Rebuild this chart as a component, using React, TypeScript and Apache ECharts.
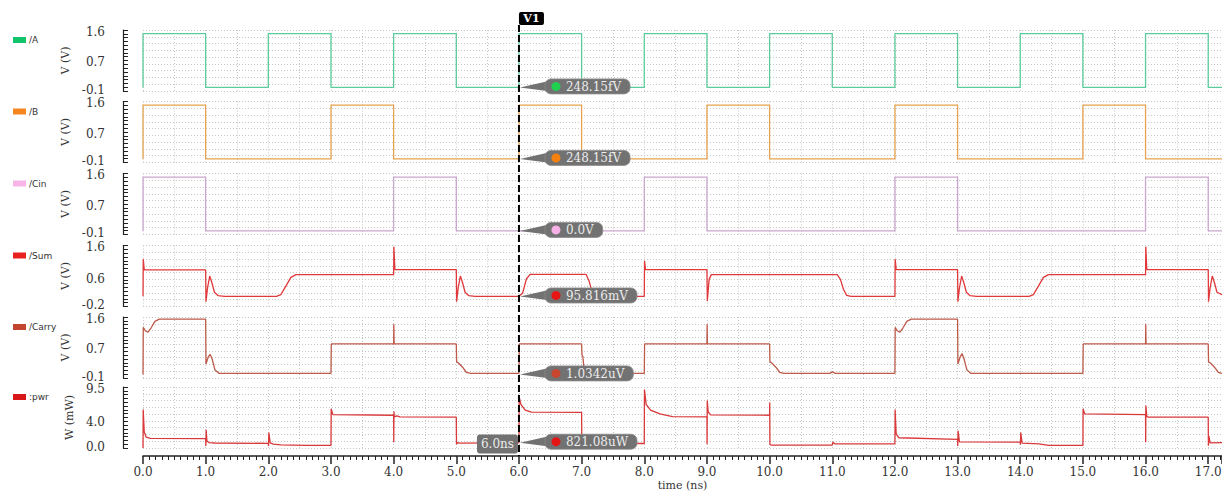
import React, { useEffect, useRef } from "react";
import * as echarts from "echarts";

// ---------- data ----------
const signalNames = ["/A", "/B", "/Cin", "/Sum", "/Carry", ":pwr"];
const axisTitles = ["V (V)", "V (V)", "V (V)", "V (V)", "V (V)", "W (mW)"];
const axisMin = [-0.1, -0.1, -0.1, -0.2, -0.1, 0.0];
const axisMax = [1.6, 1.6, 1.6, 1.6, 1.6, 9.5];
const axisTickValues = [
  [-0.1, 0.7, 1.6],
  [-0.1, 0.7, 1.6],
  [-0.1, 0.7, 1.6],
  [-0.2, 0.6, 1.6],
  [-0.1, 0.7, 1.6],
  [0.0, 4.0, 9.5],
];
const timeMax = 17.22;
const timeLabelStep = 1;
const timeGridStep = 0.5;
const timeAxisName = "time (ns)";

// digital inputs (step: value holds from t until next point)
const aWave = [[0, 0], [0, 1.5], [1, 0], [2, 1.5], [3, 0], [4, 1.5], [5, 0], [6, 1.5], [7, 0], [8, 1.5], [9, 0], [10, 1.5], [11, 0], [12, 1.5], [13, 0], [14, 1.5], [15, 0], [16, 1.5], [17, 0], [17.22, 0]];
const bWave = [[0, 0], [0, 1.5], [1, 0], [3, 1.5], [4, 0], [6, 1.5], [7, 0], [9, 1.5], [10, 0], [12, 1.5], [13, 0], [15, 1.5], [16, 0], [17.22, 0]];
const cinWave = [[0, 0], [0, 1.5], [1, 0], [4, 1.5], [5, 0], [8, 1.5], [9, 0], [12, 1.5], [13, 0], [16, 1.5], [17, 0], [17.22, 0]];

// analog outputs
const sumWave = [
  [0, 0.1], [0.004, 1.2], [0.02, 0.88], [1.0, 0.88], [1.005, -0.06], [1.03, 0.35], [1.065, 0.7], [1.1, 0.5], [1.14, 0.22], [1.2, 0.12], [1.3, 0.1],
  [2.13, 0.1], [2.2, 0.15], [2.28, 0.4], [2.36, 0.66], [2.44, 0.74], [4.0, 0.74], [4.004, 1.56], [4.02, 0.89],
  [5.0, 0.89], [5.005, -0.06], [5.03, 0.35], [5.065, 0.7], [5.1, 0.5], [5.14, 0.22], [5.2, 0.12], [5.3, 0.1],
  [6.0, 0.1], [6.06, 0.2], [6.12, 0.62], [6.18, 0.75], [7.07, 0.75], [7.12, 0.55], [7.17, 0.2], [7.21, 0.1],
  [8.0, 0.1], [8.004, 1.15], [8.02, 0.89], [9.0, 0.89], [9.006, -0.04], [9.035, 0.6], [9.07, 0.74],
  [11.08, 0.74], [11.13, 0.6], [11.18, 0.3], [11.23, 0.13], [11.3, 0.1],
  [12.0, 0.1], [12.004, 1.2], [12.02, 0.89], [13.0, 0.89], [13.005, -0.06], [13.03, 0.35], [13.065, 0.7], [13.1, 0.5], [13.14, 0.22], [13.2, 0.12], [13.3, 0.1],
  [14.14, 0.1], [14.21, 0.15], [14.29, 0.4], [14.37, 0.66], [14.45, 0.74], [16.0, 0.74], [16.004, 1.56], [16.02, 0.89],
  [17.0, 0.89], [17.005, -0.06], [17.03, 0.35], [17.065, 0.7], [17.1, 0.5], [17.14, 0.22], [17.22, 0.15],
];
const carryWave = [
  [0, 0.0], [0.004, 1.31], [0.04, 1.21], [0.08, 1.18], [0.13, 1.3], [0.19, 1.48], [0.26, 1.54], [1.0, 1.54],
  [1.005, 0.29], [1.04, 0.48], [1.07, 0.56], [1.1, 0.45], [1.15, 0.12], [1.21, 0.03],
  [3.0, 0.03], [3.005, 0.85], [4.0, 0.85], [4.003, 1.4], [4.008, 0.85], [5.0, 0.85],
  [5.005, 0.35], [5.04, 0.31], [5.1, 0.2], [5.16, 0.06], [5.23, 0.03],
  [6.0, 0.03], [6.005, 0.85], [7.0, 0.85], [7.005, 0.55], [7.02, 0.5], [7.04, 0.12], [7.07, 0.03],
  [8.0, 0.03], [8.005, 0.85], [9.0, 0.85], [9.003, 1.4], [9.008, 0.85], [10.0, 0.85],
  [10.005, 0.35], [10.04, 0.31], [10.1, 0.2], [10.16, 0.06], [10.23, 0.03], [10.96, 0.03], [11.0, 0.07], [11.05, 0.03],
  [12.0, 0.03], [12.004, 1.31], [12.04, 1.21], [12.08, 1.18], [12.13, 1.3], [12.19, 1.48], [12.26, 1.54], [13.0, 1.54],
  [13.005, 0.29], [13.04, 0.48], [13.07, 0.58], [13.1, 0.45], [13.15, 0.12], [13.21, 0.03],
  [15.0, 0.03], [15.005, 0.85], [16.0, 0.85], [16.003, 1.4], [16.008, 0.85], [17.0, 0.85],
  [17.005, 0.35], [17.04, 0.31], [17.1, 0.2], [17.16, 0.06], [17.22, 0.03],
];
const pwrWave = [
  [0, 0], [0.003, 6.0], [0.02, 2.5], [0.05, 1.7], [0.12, 1.5], [1.0, 1.45],
  [1.003, 0.3], [1.008, 2.85], [1.02, 1.1], [1.05, 0.85], [1.15, 0.78], [2.0, 0.72],
  [2.003, 0.3], [2.008, 2.4], [2.03, 0.8], [2.08, 0.6], [2.2, 0.5], [2.6, 0.42], [3.0, 0.42],
  [3.003, 6.1], [3.03, 5.2], [4.0, 5.1], [4.002, 0.9], [4.005, 5.7], [4.01, 4.85], [4.05, 5.0], [4.1, 4.85], [5.0, 4.8],
  [5.003, 0.6], [5.02, 0.85], [5.05, 0.75], [6.0, 0.82],
  [6.003, 8.0], [6.03, 6.8], [6.1, 5.9], [6.2, 5.6], [7.0, 5.55],
  [7.003, 0.5], [7.02, 0.75], [8.0, 0.7],
  [8.003, 9.1], [8.03, 6.8], [8.1, 5.9], [8.25, 5.3], [8.45, 4.9], [9.0, 4.85],
  [9.002, 0.6], [9.005, 7.4], [9.02, 5.6], [9.06, 5.15], [10.0, 5.1],
  [10.002, 7.1], [10.005, 0.6], [10.02, 0.45], [11.0, 0.45], [11.01, 0.9], [11.04, 0.65], [12.0, 0.65],
  [12.003, 6.0], [12.02, 2.2], [12.06, 1.6], [13.0, 1.35],
  [13.003, 0.3], [13.008, 2.7], [13.03, 0.95], [14.0, 0.9],
  [14.003, 0.5], [14.008, 2.4], [14.03, 0.75], [14.3, 0.65], [14.45, 0.4], [15.0, 0.4],
  [15.003, 6.1], [15.03, 5.3], [16.0, 5.2], [16.002, 0.9], [16.005, 6.6], [16.02, 4.9], [16.05, 4.8], [17.0, 4.8],
  [17.003, 0.35], [17.01, 1.9], [17.03, 0.8], [17.22, 0.83],
];
const waves = [aWave, bWave, cinWave, sumWave, carryWave, pwrWave];
const stepped = [true, true, true, false, false, false];

const lineColors = ["#5ccb9c", "#e7a24f", "#c9a6cd", "#e0393b", "#bd5a4a", "#d9393b"];
const swatchColors = ["#14c46a", "#f5861f", "#f7b6e6", "#e8201f", "#c2452f", "#d8171a"];
const dotColors = ["#1fd050", "#f5800f", "#f7b0e8", "#e81515", "#c8462f", "#e41515"];

const cursorName = "V1";
const cursorTime = 6.0;
const cursorTimeText = "6.0ns";
const cursorValues = [2.4815e-13, 2.4815e-13, 0, 0.095816, 1.0342e-6, 0.82108];
const cursorTexts = ["248.15fV", "248.15fV", "0.0V", "95.816mV", "1.0342uV", "821.08uW"];

// ---------- layout ----------
const WIDTH = 1222;
const HEIGHT = 491;
const GRID_LEFT = 143;
const PANEL_TOPS = [30, 101.5, 173.5, 245.5, 317, 387];
const PANEL_H = 61;
const SERIF = '"DejaVu Serif", serif';
const SANS = '"DejaVu Sans", sans-serif';
const GRID_COLOR = "#c6c6c6";
const AXIS_COLOR = "#222";
const LABEL_COLOR = "#333";

function measure(text: string, font: string) {
  const c = document.createElement("canvas").getContext("2d");
  if (!c) return text.length * 7;
  c.font = font;
  return c.measureText(text).width;
}

const tickRich = {
  lo: { fontFamily: SERIF, fontSize: 12, color: LABEL_COLOR, lineHeight: 12, padding: [0, 0, 3, 0] },
  md: { fontFamily: SERIF, fontSize: 12, color: LABEL_COLOR, lineHeight: 12 },
  hi: { fontFamily: SERIF, fontSize: 12, color: LABEL_COLOR, lineHeight: 12, padding: [3, 0, 0, 0] },
};

export default function App() {
  const ref = useRef<HTMLDivElement>(null);
  useEffect(() => {
    document.body.style.margin = "0";
    if (!ref.current) return;
    const chart = echarts.init(ref.current, undefined, { renderer: "svg" });

    const grids = PANEL_TOPS.map((top) => ({
      left: GRID_LEFT,
      right: 0,
      top,
      height: PANEL_H,
      containLabel: false,
      outerBoundsMode: "none",
    }));

    const xAxes: any[] = PANEL_TOPS.map((_, i) => ({
      type: "value",
      gridIndex: i,
      min: 0,
      max: timeMax,
      interval: timeGridStep,
      axisLine: { show: false, onZero: false },
      axisTick: { show: false },
      axisLabel: { show: false },
      splitLine: { show: true, lineStyle: { color: GRID_COLOR, type: [1, 2], width: 1 } },
    }));
    xAxes.push({
      type: "value",
      gridIndex: 5,
      min: 0,
      max: timeMax,
      interval: timeLabelStep,
      position: "bottom",
      offset: 8,
      axisLine: { show: true, onZero: false, lineStyle: { color: AXIS_COLOR, width: 1.5 } },
      axisTick: { show: true, length: 8, lineStyle: { color: AXIS_COLOR, width: 1.5 } },
      minorTick: { show: true, splitNumber: 10, length: 4, lineStyle: { color: AXIS_COLOR, width: 1 } },
      axisLabel: {
        formatter: (v: number) => (Math.abs(v - Math.round(v)) < 1e-9 ? v.toFixed(1) : ""),
        fontFamily: SERIF,
        fontSize: 12,
        lineHeight: 13,
        color: LABEL_COLOR,
        margin: 9,
      },
      splitLine: { show: false },
      name: timeAxisName,
      nameLocation: "middle",
      nameGap: 23.5,
      nameMoveOverlap: false,
      nameTextStyle: { fontFamily: SERIF, fontSize: 11, lineHeight: 11, color: LABEL_COLOR },
    });

    const yAxes: any[] = [];
    PANEL_TOPS.forEach((_, i) => {
      const lo = axisMin[i];
      const hi = axisMax[i];
      yAxes.push({
        type: "value",
        gridIndex: i,
        min: lo,
        max: hi,
        position: "left",
        offset: 20,
        axisLine: { show: true, onZero: false, lineStyle: { color: AXIS_COLOR, width: 1.2 } },
        axisTick: { show: false },
        axisLabel: {
          customValues: axisTickValues[i],
          formatter: (v: number) => {
            const s = v.toFixed(1);
            if (Math.abs(v - lo) < 1e-9) return `{lo|${s}}`;
            if (Math.abs(v - hi) < 1e-9) return `{hi|${s}}`;
            return `{md|${s}}`;
          },
          rich: tickRich,
          margin: 18,
          showMinLabel: true,
          showMaxLabel: true,
        },
        splitLine: { show: false },
        name: axisTitles[i],
        nameLocation: "middle",
        nameGap: 41,
        nameRotate: 90,
        nameTextStyle: { fontFamily: SERIF, fontSize: 11, color: LABEL_COLOR },
      });
      yAxes.push({
        type: "value",
        gridIndex: i,
        min: 0,
        max: 16,
        interval: 1,
        position: "left",
        offset: 20,
        axisLine: { show: false, onZero: false },
        axisTick: { show: true, inside: true, length: 5, lineStyle: { color: AXIS_COLOR, width: 1 } },
        axisLabel: { show: false },
        splitLine: { show: false },
      });
      yAxes.push({
        type: "value",
        gridIndex: i,
        min: 0,
        max: 9,
        interval: 1,
        position: "right",
        axisLine: { show: false, onZero: false },
        axisTick: { show: false },
        axisLabel: { show: false },
        splitLine: { show: true, lineStyle: { color: GRID_COLOR, type: [1, 2], width: 1 } },
      });
    });

    const series = waves.map((w, i) => ({
      type: "line",
      name: signalNames[i],
      xAxisIndex: i,
      yAxisIndex: i * 3,
      data: w,
      step: stepped[i] ? "end" : false,
      showSymbol: false,
      symbol: "none",
      lineStyle: { color: lineColors[i], width: 1.3 },
      itemStyle: { color: lineColors[i] },
      clip: true,
      silent: true,
    }));

    chart.setOption({
      animation: false,
      grid: grids,
      xAxis: xAxes,
      yAxis: yAxes,
      series,
    });

    // graphics: legend swatches, cursor and value tags
    const g: any[] = [];
    PANEL_TOPS.forEach((top, i) => {
      g.push({ type: "rect", shape: { x: 13, y: top + 7, width: 13, height: 6 }, style: { fill: swatchColors[i] } });
      g.push({
        type: "text",
        x: 29,
        y: top + 10,
        style: { text: signalNames[i], fill: LABEL_COLOR, font: `9px ${SANS}`, verticalAlign: "middle", align: "left" },
      });
    });

    const cx = chart.convertToPixel({ xAxisIndex: 0 }, cursorTime) as number;
    const axisBottom = PANEL_TOPS[5] + PANEL_H + 8;
    g.push({
      type: "line",
      z: 50,
      shape: { x1: cx, y1: 25, x2: cx, y2: axisBottom },
      style: { stroke: "#000", lineWidth: 2, lineDash: [7, 3] },
    });
    g.push({ type: "rect", z: 51, shape: { x: cx, y: 12, width: 25, height: 13, r: 2 }, style: { fill: "#000" } });
    g.push({
      type: "text",
      z: 52,
      x: cx + 12.5,
      y: 18.5,
      style: { text: cursorName, fill: "#fff", font: `bold 11px ${SERIF}`, align: "center", verticalAlign: "middle" },
    });

    const tagFont = `12px ${SERIF}`;
    cursorValues.forEach((v, i) => {
      const py = chart.convertToPixel({ yAxisIndex: i * 3 }, v) as number;
      const cy = py - 1;
      const bx = cx + 26;
      const tw = measure(cursorTexts[i], tagFont);
      g.push({
        type: "polygon",
        z: 60,
        shape: { points: [[cx + 1, py], [bx + 6, cy - 6], [bx + 6, cy + 5]] },
        style: { fill: "#727272" },
      });
      g.push({
        type: "rect",
        z: 61,
        shape: { x: bx, y: cy - 7.5, width: tw + 30, height: 15, r: 6 },
        style: { fill: "#727272", stroke: "#8a8a8a", lineWidth: 0.8 },
      });
      g.push({ type: "circle", z: 62, shape: { cx: bx + 11, cy, r: 4.5 }, style: { fill: dotColors[i] } });
      g.push({
        type: "text",
        z: 62,
        x: bx + 21,
        y: cy + 0.5,
        style: { text: cursorTexts[i], fill: "#ececec", font: tagFont, align: "left", verticalAlign: "middle" },
      });
    });

    const tw = measure(cursorTimeText, tagFont);
    const ty = PANEL_TOPS[5] + PANEL_H - 4;
    g.push({
      type: "rect",
      z: 61,
      shape: { x: cx - tw - 9, y: ty - 9.5, width: tw + 8, height: 19, r: 3 },
      style: { fill: "#727272" },
    });
    g.push({
      type: "text",
      z: 62,
      x: cx - 5,
      y: ty,
      style: { text: cursorTimeText, fill: "#ececec", font: tagFont, align: "right", verticalAlign: "middle" },
    });

    chart.setOption({ graphic: g });

    return () => chart.dispose();
  }, []);

  return <div ref={ref} style={{ width: WIDTH, height: HEIGHT }} />;
}
